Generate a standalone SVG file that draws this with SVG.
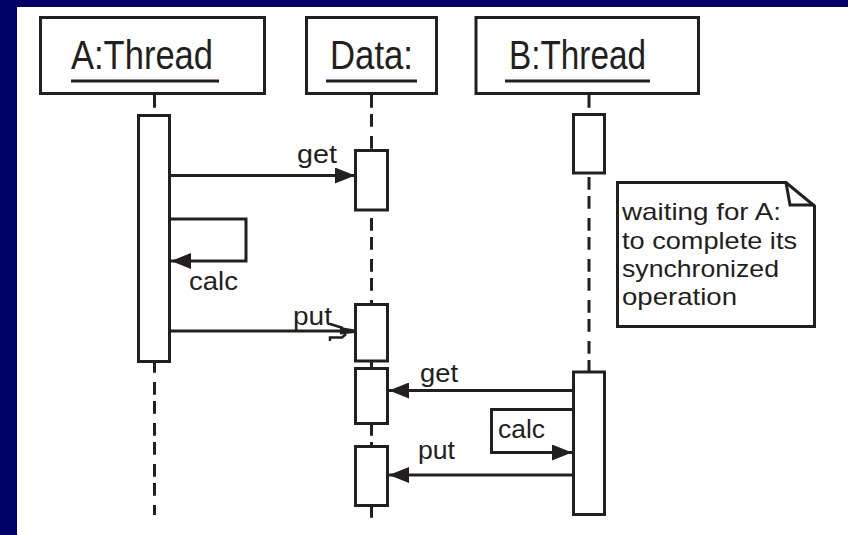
<svg xmlns="http://www.w3.org/2000/svg" width="848" height="535" viewBox="0 0 848 535">
<style>
.ln{fill:none;stroke:#231f20;stroke-width:3}
.box{fill:#fff;stroke:#231f20;stroke-width:3}
.life{fill:none;stroke:#231f20;stroke-width:3;stroke-dasharray:12.7 6.3 12.7 9.3}
.hd{font-family:"Liberation Sans",Arial,sans-serif;font-size:40px;fill:#231f20}
.lb{font-family:"Liberation Sans",Arial,sans-serif;font-size:25px;fill:#231f20}
.nt{font-family:"Liberation Sans",Arial,sans-serif;font-size:24px;fill:#231f20}
.ah{fill:#231f20;stroke:none}
</style>
<defs>
<marker id="arr" viewBox="0 0 20 16" refX="20" refY="8" markerWidth="20" markerHeight="16" markerUnits="userSpaceOnUse" orient="auto">
<path d="M0,0 L20,8 L0,16 Z" class="ah"/>
</marker>
</defs>
<rect x="0" y="0" width="848" height="535" fill="#000066"/>
<rect x="17" y="7" width="831" height="528" fill="#fff"/>

<g id="lifelines">
<line class="life" x1="154.5" y1="95" x2="154.5" y2="515"/>
<line class="life" x1="371.5" y1="95" x2="371.5" y2="518"/>
<line class="life" x1="589" y1="95" x2="589" y2="372"/>
<line class="ln" x1="371.5" y1="361" x2="371.5" y2="369"/>
</g>

<g id="node-a-thread">
<rect class="box" x="40.5" y="17.5" width="224" height="76"/>
<text class="hd" x="71" y="69" textLength="142" lengthAdjust="spacingAndGlyphs">A:Thread</text>
<line class="ln" x1="71" y1="81" x2="219" y2="81"/>
</g>
<g id="node-data">
<rect class="box" x="306.5" y="17.5" width="130" height="76"/>
<text class="hd" x="330" y="69" textLength="83" lengthAdjust="spacingAndGlyphs">Data:</text>
<line class="ln" x1="326" y1="81" x2="417" y2="81"/>
</g>
<g id="node-b-thread">
<rect class="box" x="476" y="17.5" width="222.5" height="76"/>
<text class="hd" x="509" y="69" textLength="137" lengthAdjust="spacingAndGlyphs">B:Thread</text>
<line class="ln" x1="505" y1="81" x2="650" y2="81"/>
</g>

<g id="activations">
<rect id="act-a" class="box" x="138.5" y="115.5" width="31" height="246"/>
<rect id="act-data-1" class="box" x="355.5" y="150.5" width="32" height="59.5"/>
<rect id="act-data-2" class="box" x="355.5" y="304.5" width="32" height="56.5"/>
<rect id="act-data-3" class="box" x="355.5" y="368.5" width="32" height="55"/>
<rect id="act-data-4" class="box" x="355.5" y="446.5" width="32" height="59"/>
<rect id="act-b-1" class="box" x="573.5" y="114.5" width="31" height="58.5"/>
<rect id="act-b-2" class="box" x="573.5" y="372" width="31" height="142.5"/>
</g>

<g id="note">
<path class="box" d="M617.5,182.5 H786 L814.5,206 V326.5 H617.5 Z"/>
<path class="ln" d="M786,182.5 L790,205 H814.5"/>
<text class="nt" x="622" y="220" textLength="159" lengthAdjust="spacingAndGlyphs">waiting for A:</text>
<text class="nt" x="622" y="249" textLength="175" lengthAdjust="spacingAndGlyphs">to complete its</text>
<text class="nt" x="622" y="277" textLength="157" lengthAdjust="spacingAndGlyphs">synchronized</text>
<text class="nt" x="622" y="305" textLength="115" lengthAdjust="spacingAndGlyphs">operation</text>
</g>

<g id="connectors">
<path class="ln" d="M170,175.5 H355" marker-end="url(#arr)"/>
<text class="lb" x="297" y="163" textLength="40" lengthAdjust="spacingAndGlyphs">get</text>

<path class="ln" d="M170,219 H246 V261 H171" marker-end="url(#arr)"/>
<text class="lb" x="189" y="290" textLength="49" lengthAdjust="spacingAndGlyphs">calc</text>

<path class="ln" d="M170,331 H345"/>
<path class="ln" style="stroke-width:2.5" d="M330,324 L343,328"/>
<path class="ah" d="M340,327 L355,329.5 L355,333 L340,334.5 Z"/>
<path class="ln" style="stroke-width:2.5" d="M330,341 V337.5 H342 L346,334"/>
<text class="lb" x="293" y="325" textLength="39" lengthAdjust="spacingAndGlyphs">put</text>

<path class="ln" d="M573,390.5 H389" marker-end="url(#arr)"/>
<text class="lb" x="420" y="382" textLength="38" lengthAdjust="spacingAndGlyphs">get</text>

<path class="ln" d="M573,409.5 H491.5 V452.5 H572" marker-end="url(#arr)"/>
<text class="lb" x="498" y="438" textLength="47" lengthAdjust="spacingAndGlyphs">calc</text>

<path class="ln" d="M573,475 H389" marker-end="url(#arr)"/>
<text class="lb" x="418" y="459" textLength="37" lengthAdjust="spacingAndGlyphs">put</text>
</g>
</svg>
